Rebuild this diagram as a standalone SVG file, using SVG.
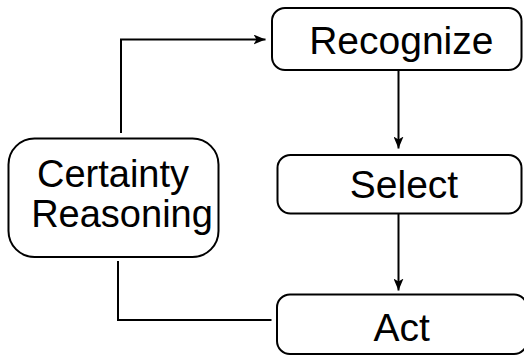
<svg xmlns="http://www.w3.org/2000/svg" width="524" height="356" viewBox="0 0 524 356">
  <defs>
    <marker id="arrow" viewBox="0 0 12 10" refX="12" refY="5" markerWidth="12" markerHeight="10" markerUnits="userSpaceOnUse" orient="auto">
      <path d="M0,0 L12,5 L0,10 L3,5 z" fill="#000"/>
    </marker>
    <style>
      .box { fill: #fff; stroke: #000; stroke-width: 2; }
      .lbl { font-family: "Liberation Sans", Arial, sans-serif; font-size: 39px; fill: #000; text-anchor: middle; }
      .con { fill: none; stroke: #000; stroke-width: 2; }
    </style>
  </defs>
  <rect width="524" height="356" fill="#fff"/>
  <g id="connectors">
    <polyline class="con" points="121,133 121,39.5 265.5,39.5" marker-end="url(#arrow)"/>
    <line class="con" x1="398.5" y1="71" x2="398.5" y2="148.5" marker-end="url(#arrow)"/>
    <line class="con" x1="398.5" y1="214" x2="398.5" y2="290.5" marker-end="url(#arrow)"/>
    <polyline class="con" points="118,261 118,320 271.5,320"/>
  </g>
  <g id="recognize">
    <rect class="box" x="272" y="8" width="249.5" height="62" rx="13" ry="13"/>
    <text class="lbl" x="401.3" y="54">Recognize</text>
  </g>
  <g id="select">
    <rect class="box" x="277.5" y="155" width="244" height="58.5" rx="13" ry="13"/>
    <text class="lbl" x="404" y="198">Select</text>
  </g>
  <g id="act">
    <rect class="box" x="277" y="294.5" width="250" height="59.5" rx="13" ry="13"/>
    <text class="lbl" x="401.7" y="341">Act</text>
  </g>
  <g id="certainty-reasoning">
    <rect class="box" x="8.5" y="138.5" width="210" height="118.5" rx="26" ry="26"/>
    <text class="lbl" style="font-size:38px" x="113" y="187">Certainty</text>
    <text class="lbl" style="font-size:38px" x="122" y="227">Reasoning</text>
  </g>
</svg>
